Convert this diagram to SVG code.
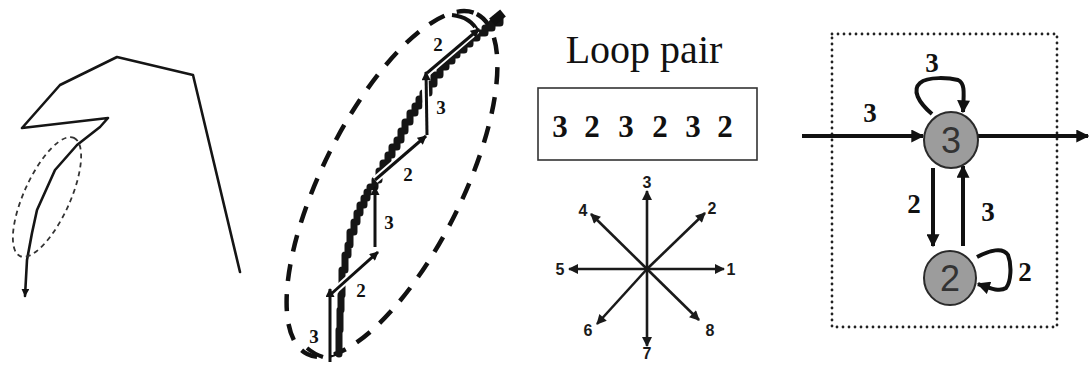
<svg xmlns="http://www.w3.org/2000/svg" width="1089" height="366" viewBox="0 0 1089 366">
<style>
.ln{fill:none;stroke:#151515;stroke-linejoin:round;stroke-linecap:round}
.halo{fill:none;stroke:#fff;stroke-width:7}
.ar2{fill:none;stroke:#111;stroke-width:3}
.cmp{fill:none;stroke:#1a1a1a;stroke-width:2.6}
.g4{fill:none;stroke:#111;stroke-width:4}
.tb{font-family:"Liberation Serif",serif;font-weight:bold;fill:#111}
.ts{font-family:"Liberation Sans",sans-serif;font-weight:bold;fill:#1a1a1a;font-size:16px;text-anchor:middle}
.node{fill:#9c9c9c;stroke:#2a2a2a;stroke-width:2}
.ntx{font-family:"Liberation Sans",sans-serif;font-size:36px;fill:#333;text-anchor:middle}
</style>
<defs>
<marker id="mS" viewBox="0 0 10 10" refX="9" refY="5" markerUnits="userSpaceOnUse" markerWidth="10" markerHeight="9" orient="auto"><path d="M0,0 L10,5 L0,10 z" fill="#111"/></marker>
<marker id="mT" viewBox="0 0 10 10" refX="9" refY="5" markerUnits="userSpaceOnUse" markerWidth="8" markerHeight="8" orient="auto"><path d="M0,0 L10,5 L0,10 z" fill="#111"/></marker>
<marker id="mC" viewBox="0 0 10 10" refX="9" refY="5" markerUnits="userSpaceOnUse" markerWidth="13" markerHeight="10" orient="auto"><path d="M0,0 L10,5 L0,10 z" fill="#1a1a1a"/></marker>
<marker id="mL" viewBox="0 0 10 10" refX="9" refY="5" markerUnits="userSpaceOnUse" markerWidth="14" markerHeight="13" orient="auto"><path d="M0,0 L10,5 L0,10 z" fill="#111"/></marker>
</defs>
<rect width="1089" height="366" fill="#fff"/>

<g id="chain-code-curve">
<polyline class="ln" stroke-width="2.6" points="240,272 193,75 117,57 60,85 22,128 108,118 100,127 77,145 55,170 37,210 32,233 27,260 25,296" marker-end="url(#mT)"/>
<ellipse cx="47" cy="197" rx="65" ry="23" transform="rotate(-65.5 47 197)" fill="none" stroke="#333" stroke-width="1.8" stroke-dasharray="5 4"/>
</g>

<g id="staircase-detail">
<ellipse cx="392" cy="184" rx="190" ry="70" transform="rotate(-63.5 392 184)" fill="none" stroke="#111" stroke-width="4.5" stroke-dasharray="17 13"/>
<path d="M452,15 Q471,17 478,32" fill="none" stroke="#111" stroke-width="4"/>
<path d="M307,348 Q314,354 323,357" fill="none" stroke="#111" stroke-width="4"/>
<path class="ln" stroke="#1c1c1c" stroke-width="7" d="M339,354 V330 H340 V310 H341 V295 H342 V270 H345 V255 H348 V245 H350 V232 H354 V222 H357 V213 H360 V205 H364 V198 H367 V192 H370 V187 H375 V180 H379 V171 H383 V163 H388 V155 H392 V147 H397 V140 H401 V131 H405 V122 H410 V113 H415 V106 H419 V99 H423 V93 H429 V84 H434 V75 H440 V67 H446 V61 H452 V55 H457 V50 H464 V44 H470 V38 H477 V33 H485 V28 H492 V23 H500 V17"/>
<path d="M492,22 L503,13" stroke="#111" stroke-width="9" fill="none"/>
<g id="steps">
<path class="halo" d="M330,355 L330,292 M330,295 L377,253 M375,247 L375,190 M375,180 L425,137 M427,135 L425,75 M427,73 L477,30"/>
<line class="ar2" x1="330" y1="362" x2="330" y2="289" marker-end="url(#mS)"/>
<line class="ar2" x1="330" y1="295" x2="378" y2="252" marker-end="url(#mS)"/>
<line class="ar2" x1="375" y1="247" x2="375" y2="187" marker-end="url(#mS)"/>
<line class="ar2" x1="375" y1="180" x2="426" y2="136" marker-end="url(#mS)"/>
<line class="ar2" x1="427" y1="135" x2="426" y2="72" marker-end="url(#mS)"/>
<line class="ar2" x1="427" y1="73" x2="479" y2="29" marker-end="url(#mS)"/>
</g>
<g class="tb" font-size="19" text-anchor="middle">
<text x="314" y="343">3</text>
<text x="361" y="297">2</text>
<text x="389" y="229">3</text>
<text x="408" y="181">2</text>
<text x="441" y="114">3</text>
<text x="438" y="51">2</text>
</g>
</g>

<g id="loop-pair">
<text x="644" y="63" font-family="Liberation Serif,serif" font-size="40" fill="#111" text-anchor="middle">Loop pair</text>
<rect x="538" y="88" width="219" height="72" fill="none" stroke="#333" stroke-width="1.6"/>
<text class="tb" font-size="31" text-anchor="middle" x="560 576 592 609 626 643 660 676 693 709 725" y="137">3 2 3 2 3 2</text>
</g>

<g id="compass">
<g class="cmp" marker-end="url(#mC)">
<line x1="647" y1="269" x2="724" y2="269"/>
<line x1="647" y1="269" x2="705" y2="213"/>
<line x1="647" y1="269" x2="647" y2="191"/>
<line x1="647" y1="269" x2="591" y2="214"/>
<line x1="647" y1="269" x2="569" y2="269"/>
<line x1="647" y1="269" x2="597" y2="324"/>
<line x1="647" y1="269" x2="647" y2="346"/>
<line x1="647" y1="269" x2="699" y2="320"/>
</g>
<text class="ts" x="731" y="275">1</text>
<text class="ts" x="712" y="214">2</text>
<text class="ts" x="647" y="188">3</text>
<text class="ts" x="583" y="216">4</text>
<text class="ts" x="560" y="275">5</text>
<text class="ts" x="588" y="336">6</text>
<text class="ts" x="647" y="359">7</text>
<text class="ts" x="710" y="336">8</text>
</g>

<g id="state-diagram">
<rect x="832" y="34" width="225" height="293" fill="none" stroke="#222" stroke-width="2.8" stroke-dasharray="0 6" stroke-linecap="round"/>
<g id="connectors">
<path class="g4" d="M802,136 L923,136" marker-end="url(#mL)"/>
<path class="g4" d="M978,136 L1088,136" marker-end="url(#mL)"/>
<path class="g4" d="M932,114 C918,102 912,90 920,83 C928,76 950,78 958,80 C965,83 964,92 963,112" marker-end="url(#mL)"/>
<path class="g4" d="M933,168 L933,246" marker-end="url(#mL)"/>
<path class="g4" d="M963,246 L963,166" marker-end="url(#mL)"/>
<path class="g4" d="M977,257 C990,250 1003,247 1008,255 C1012,265 1011,282 1006,288 C1000,292 992,289 978,284" marker-end="url(#mL)"/>
</g>
<g id="node-3">
<ellipse class="node" cx="951" cy="140" rx="27" ry="28"/>
<text class="ntx" x="951" y="153">3</text>
</g>
<g id="node-2">
<ellipse class="node" cx="950" cy="278" rx="26" ry="27"/>
<text class="ntx" x="950" y="291">2</text>
</g>
<g class="tb" font-size="27" text-anchor="middle">
<text x="870" y="122">3</text>
<text x="932" y="72">3</text>
<text x="914" y="213">2</text>
<text x="988" y="221">3</text>
<text x="1025" y="281">2</text>
</g>
</g>
</svg>
